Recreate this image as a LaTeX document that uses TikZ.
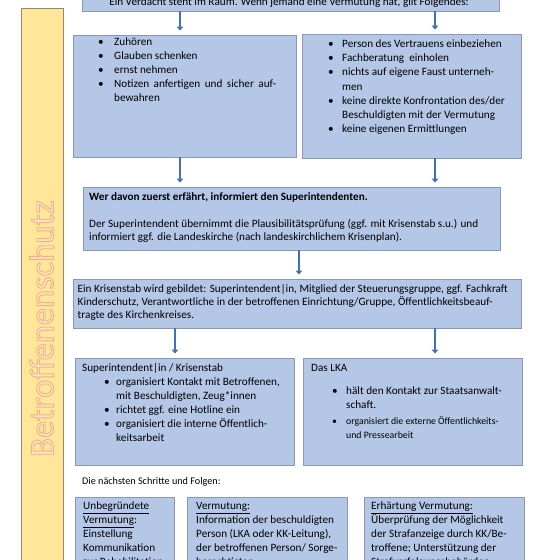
\documentclass[tikz,border=0pt]{standalone}
\usepackage{fontspec}
\setmainfont{Carlito}
\usetikzlibrary{arrows.meta}
\definecolor{boxfill}{HTML}{B4C7E7}
\definecolor{boxline}{HTML}{8A99B3}
\definecolor{arrowc}{HTML}{4170B8}
\definecolor{barfill}{HTML}{FFE699}
\definecolor{barline}{HTML}{8F8A6E}
\definecolor{orfill}{HTML}{FCE3C0}
\begin{document}
\begin{tikzpicture}[x=1pt,y=-1pt,
  box/.style={draw=boxline, fill=boxfill, line width=0.9pt, rectangle, inner sep=0pt},
  txt/.style={inner sep=0pt, font=\fontsize{11.2}{14}\selectfont, anchor=base west},
  arr/.style={draw=arrowc, line width=2.2pt, -{Triangle[length=4pt,width=6.5pt]}, shorten >=4pt}]
\useasboundingbox (0,0) rectangle (560,560);

% side bar
\node[draw=barline, fill=barfill, line width=0.9pt, inner sep=0pt, minimum width=42pt, minimum height=592pt] (bar) at (42,304) {};
\node[rotate=90, anchor=base, inner sep=0pt, font=\fontsize{34.5}{34.5}\selectfont, text=orfill] (lbl) at (53.5,328.5)
  {\special{pdf:literal direct 0.957 0.694 0.514 RG 0.9 w 2 Tr}Betroffenenschutz\special{pdf:literal direct 0 Tr}};

% boxes
\node[box, minimum width=417pt, minimum height=31pt] (top) at (290.5,-4.5) {};
\node[box, minimum width=223pt, minimum height=122pt] (b1) at (184.5,96) {};
\node[box, minimum width=219pt, minimum height=124pt] (b2) at (411.5,96) {};
\node[box, minimum width=417pt, minimum height=63pt] (W) at (291.5,218.5) {};
\node[box, minimum width=448pt, minimum height=49pt] (K) at (297,303.5) {};
\node[box, minimum width=219pt, minimum height=107pt] (SI) at (184.5,411.5) {};
\node[box, minimum width=219pt, minimum height=107pt] (LKA) at (412.5,411.5) {};
\node[box, minimum width=99pt, minimum height=103pt] (c1) at (124.5,548.5) {};
\node[box, minimum width=160pt, minimum height=103pt] (c2) at (267,548.5) {};
\node[box, minimum width=160pt, minimum height=103pt] (c3) at (444,548.5) {};

% arrows
\coordinate (xa) at (180,0);
\coordinate (xb) at (435,0);
\coordinate (xc) at (299,0);
\coordinate (xd) at (175,0);
\draw[arr] (top.south -| xa) -- (b1.north -| xa);
\draw[arr] (top.south -| xb) -- (b2.north -| xb);
\draw[arr] (b1.south -| xa) -- (W.north -| xa);
\draw[arr] (b2.south -| xb) -- (W.north -| xb);
\draw[arr] (W.south -| xc) -- (K.north -| xc);
\draw[arr] (K.south -| xd) -- (SI.north -| xd);
\draw[arr] (K.south -| xb) -- (LKA.north -| xb);

% texts
\node[txt, anchor=base] (ttop) at (289,5) {Ein Verdacht steht im Raum. Wenn jemand eine Vermutung hat, gilt Folgendes:};

\node[txt] (tb1) at (98,45.5) {\begin{tabular}[t]{@{}p{16pt}@{}l@{}}
\textbullet & Zuhören\\
\textbullet & Glauben schenken\\
\textbullet & ernst nehmen\\
\textbullet & \makebox[162pt][s]{Notizen anfertigen und sicher auf-}\\
 & bewahren
\end{tabular}};

\node[txt, font=\fontsize{11.2}{14.2}\selectfont] (tb2) at (328,47.5) {\begin{tabular}[t]{@{}p{14pt}@{}l@{}}
\textbullet & Person des Vertrauens einbeziehen\\
\textbullet & Fachberatung\ \ einholen\\
\textbullet & nichts auf eigene Faust unterneh-\\
 & men\\
\textbullet & keine direkte Konfrontation des/der\\
 & Beschuldigten mit der Vermutung\\
\textbullet & keine eigenen Ermittlungen
\end{tabular}};

\node[txt] (tW1) at (89,200.5) {\textbf{Wer davon zuerst erfährt, informiert den Superintendenten.}};
\node[txt, font=\fontsize{11.2}{13}\selectfont] (tW2) at (89,227.5) {\begin{tabular}[t]{@{}l@{}}
Der Superintendent übernimmt die Plausibilitätsprüfung (ggf. mit Krisenstab s.u.) und\\
informiert ggf. die Landeskirche (nach landeskirchlichem Krisenplan).
\end{tabular}};

\node[txt, font=\fontsize{11.2}{13}\selectfont] (tK) at (77.5,292.5) {\begin{tabular}[t]{@{}l@{}}
Ein Krisenstab wird gebildet: Superintendent|in, Mitglied der Steuerungsgruppe, ggf. Fachkraft\\
Kinderschutz, Verantwortliche in der betroffenen Einrichtung/Gruppe, Öffentlichkeitsbeauf-\\
tragte des Kirchenkreises.
\end{tabular}};

\node[txt] (tSI0) at (82,371.5) {Superintendent|in / Krisenstab};
\node[txt] (tSI) at (104,385.5) {\begin{tabular}[t]{@{}p{12pt}@{}l@{}}
\textbullet & organisiert Kontakt mit Betroffenen,\\
 & mit Beschuldigten, Zeug*innen\\
\textbullet & richtet ggf. eine Hotline ein\\
\textbullet & organisiert die interne Öffentlich-\\
 & keitsarbeit
\end{tabular}};

\node[txt] (tL0) at (311,371.5) {Das LKA};
\node[txt] (tL1) at (332,394.5) {\begin{tabular}[t]{@{}p{14pt}@{}l@{}}
\textbullet & hält den Kontakt zur Staatsanwalt-\\
 & schaft.
\end{tabular}};
\node[txt, font=\fontsize{9.8}{14}\selectfont] (tL2) at (332,424.5) {\begin{tabular}[t]{@{}p{14pt}@{}l@{}}
\textbullet & organisiert die externe Öffentlichkeits-\\
 & und Pressearbeit
\end{tabular}};

\node[txt, font=\fontsize{10.2}{12}\selectfont] (tnext) at (82,484.5) {Die nächsten Schritte und Folgen:};

\node[txt] (tc1) at (83,509.5) {\begin{tabular}[t]{@{}l@{}}
\underline{Unbegründete}\\
\underline{Vermutung}:\\
Einstellung\\
Kommunikation\\
zur Rehabilitation
\end{tabular}};
\node[txt] (tc2) at (196,509.5) {\begin{tabular}[t]{@{}l@{}}
\underline{Vermutung:}\\
Information der beschuldigten\\
Person (LKA oder KK-Leitung),\\
der betroffenen Person/ Sorge-\\
berechtigten
\end{tabular}};
\node[txt] (tc3) at (371,509.5) {\begin{tabular}[t]{@{}l@{}}
\underline{Erhärtung Vermutung:}\\
Überprüfung der Möglichkeit\\
der Strafanzeige durch KK/Be-\\
troffene; Unterstützung der\\
Strafverfolgungsbehörden
\end{tabular}};
\end{tikzpicture}
\end{document}
